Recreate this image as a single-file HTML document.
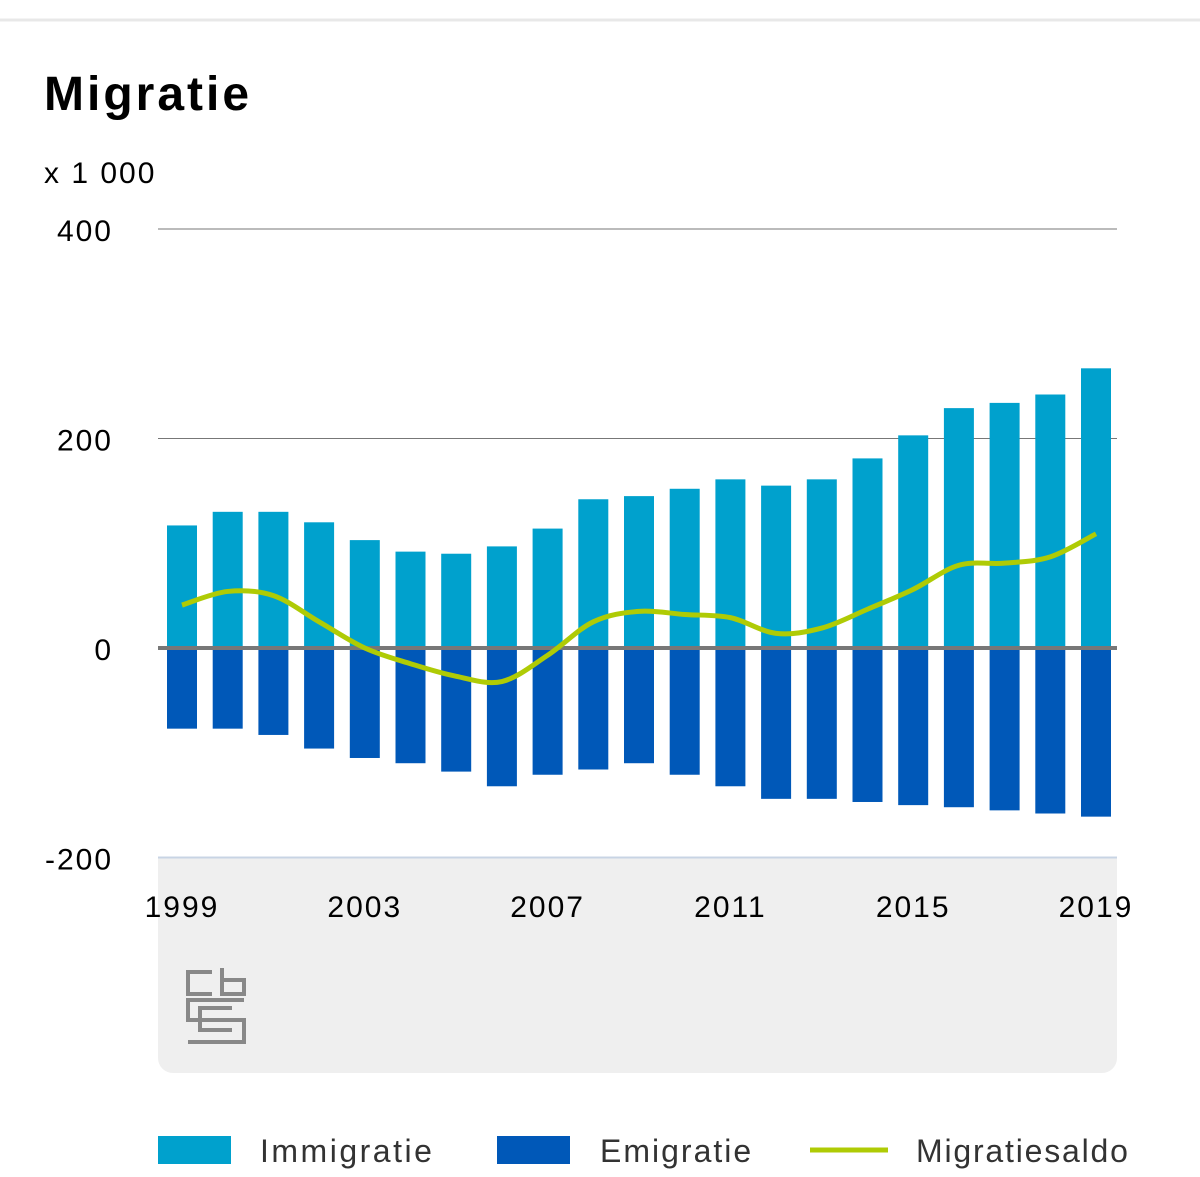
<!DOCTYPE html>
<html><head><meta charset="utf-8"><style>
body{margin:0;background:#fff;font-family:"Liberation Sans",sans-serif;}
svg{display:block}
</style></head><body>
<svg width="1200" height="1177">
<line x1="0" y1="20" x2="1200" y2="20" stroke="#e8e8e8" stroke-width="3"/>
<text x="44" y="110" font-size="48" font-weight="bold" fill="#000" letter-spacing="3">Migratie</text>
<text x="44" y="183" font-size="30" fill="#000" letter-spacing="2">x 1 000</text>
<path d="M158 858 H1117 V1058 a15 15 0 0 1 -15 15 H173 a15 15 0 0 1 -15 -15 Z" fill="#efefef"/>
<g id="grid"></g><g id="bars"></g><g id="line"></g><g id="xt"></g>
<g fill="none" stroke="#888" stroke-width="4">
<path d="M212 972 H188 V994 H212"/><path d="M222 968 V994 H244 V980 H222"/><path d="M244 1000 H188 V1020 H244 V1042 H188"/><path d="M232 1008 H200 V1030 H232"/>
</g>
<g>
<rect x="158" y="1136" width="73" height="28" fill="#00a1cd"/>
<text x="260" y="1162" font-size="32" fill="#333" letter-spacing="2.5">Immigratie</text>
<rect x="497" y="1136" width="73" height="28" fill="#0058b8"/>
<text x="600" y="1162" font-size="32" fill="#333" letter-spacing="2">Emigratie</text>
<line x1="810" y1="1150" x2="888" y2="1150" stroke="#afcb05" stroke-width="5"/>
<text x="916" y="1162" font-size="32" fill="#333" letter-spacing="1.8">Migratiesaldo</text>
</g>
</svg>
<script>
const years=[1999,2000,2001,2002,2003,2004,2005,2006,2007,2008,2009,2010,2011,2012,2013,2014,2015,2016,2017,2018,2019];
const immigratie=[117,130,130,120,103,92,90,97,114,142,145,152,161,155,161,181,203,229,234,242,267];
const emigratie=[-77,-77,-83,-96,-105,-110,-118,-132,-121,-116,-110,-121,-132,-144,-144,-147,-150,-152,-155,-158,-161];
const saldo=[41,54,50,25,0,-15,-27,-32,-7,25,35,32,29,14,19,37,56,79,81,87,109];
const yTicks=[400,200,0,-200];
const xTicks=[1999,2003,2007,2011,2015,2019];
const NS="http://www.w3.org/2000/svg";
const y=v=>648-v*1.0475;
const x=yr=>182+(yr-1999)*45.7;
function mk(t,a,p){const e=document.createElementNS(NS,t);for(const k in a)e.setAttribute(k,a[k]);document.getElementById(p).appendChild(e);return e;}
yTicks.forEach(v=>{
 if(v!==0){const l=mk('line',{x1:158,x2:1117,y1:y(v),y2:y(v),stroke:v===-200?'#c8d4e4':'#777','stroke-width':v===-200?2:1},'grid');
 
 }
 const t=mk('text',{x:113,y:y(v)+12,'font-size':30,'text-anchor':'end',fill:'#000','letter-spacing':2},'grid');t.textContent=v;
 
 
});
years.forEach((yr,i)=>{
 const a=mk('rect',{x:x(yr)-15,width:30,y:y(immigratie[i]),height:y(0)-y(immigratie[i]),fill:'#00a1cd'},'bars');
 
 
 const b=mk('rect',{x:x(yr)-15,width:30,y:y(0),height:y(emigratie[i])-y(0),fill:'#0058b8'},'bars');
 
 
});
const z=mk('line',{x1:158,x2:1117,y1:y(0),y2:y(0),stroke:'#777','stroke-width':4},'bars');


const pts=years.map((yr,i)=>[x(yr),y(saldo[i])]);
let d='M'+pts[0];
for(let i=0;i<pts.length-1;i++){const p0=pts[Math.max(0,i-1)],p1=pts[i],p2=pts[i+1],p3=pts[Math.min(pts.length-1,i+2)];
 d+=` C${p1[0]+(p2[0]-p0[0])/6},${p1[1]+(p2[1]-p0[1])/6} ${p2[0]-(p3[0]-p1[0])/6},${p2[1]-(p3[1]-p1[1])/6} ${p2[0]},${p2[1]}`;}
const ln=mk('path',{d:d,fill:'none',stroke:'#afcb05','stroke-width':5},'line');


xTicks.forEach(yr=>{const t=mk('text',{x:x(yr),y:917,'font-size':30,'text-anchor':'middle',fill:'#000','letter-spacing':2},'xt');t.textContent=yr;
 
 });
</script>
</body></html>
